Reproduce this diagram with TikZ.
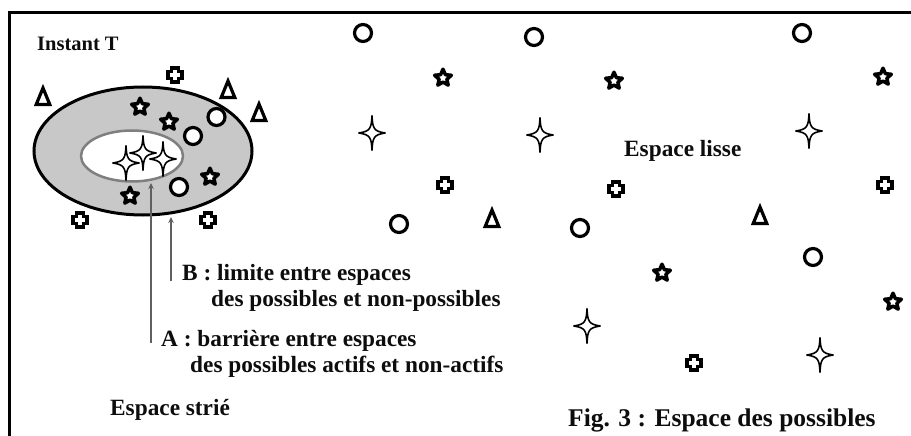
\documentclass[tikz,border=0pt]{standalone}
\usepackage{fontspec}
\setmainfont{Liberation Serif}
\usetikzlibrary{arrows.meta}
\definecolor{fillgray}{HTML}{C8C8C8}
\definecolor{rimgray}{HTML}{7F7F7F}
\definecolor{leadgray}{HTML}{606060}
\tikzset{
  x=1pt,y=-1pt,
  lab/.style={inner sep=0pt,anchor=base west,font=\bfseries\fontsize{23.3}{26}\selectfont,text=black!95},
  leader/.style={leadgray,line width=1.2pt,-{Stealth[length=6pt,width=5.5pt]}},
  pics/circsym/.style={code={\draw[line width=3.2pt,black,fill=white] (0,0) circle[radius=8.5];}},
  pics/trisym/.style={code={\draw[line width=3.2pt,black,fill=white,miter limit=10] (0,-8)--(6.8,8.5)--(-6.8,8.5)--cycle;}},
  pics/plussym/.style={code={\draw[line width=3.3pt,black,fill=white]
     (-3.2,-7)--(3.2,-7)--(3.2,-3.2)--(7,-3.2)--(7,3.2)--(3.2,3.2)--(3.2,7)--(-3.2,7)--(-3.2,3.2)--(-7,3.2)--(-7,-3.2)--(-3.2,-3.2)--cycle;}},
  pics/starsym/.style={code={\draw[line width=3.5pt,black,fill=white,line join=round]
     (90:-8.8)--(126:-4.1)--(162:-8.8)--(198:-4.1)--(234:-8.8)--(270:-4.1)--(306:-8.8)--(342:-4.1)--(18:-8.8)--(54:-4.1)--cycle;}},
  pics/sparksym/.style={code={\draw[line width=1.6pt,black,fill=white,line join=bevel]
     (0,-17.5) .. controls (0.6,-5) and (1.5,-1.5) .. (13.5,0) .. controls (1.5,1.5) and (0.6,5) .. (0,17.5)
     .. controls (-0.6,5) and (-1.5,1.5) .. (-13.5,0) .. controls (-1.5,-1.5) and (-0.6,-5) .. (0,-17.5) -- cycle;}},
}
\begin{document}
\begin{tikzpicture}
\useasboundingbox[fill=white] (0,0) rectangle (911,436);
% frame
\draw[line width=3.4pt,black] (9.4,436) -- (9.4,12.7) -- (911,12.7);
% regions
\draw[line width=3pt,black,fill=fillgray] (143,151) ellipse[x radius=109,y radius=64];
\draw[line width=2.5pt,rimgray,fill=white] (132,156) ellipse[x radius=51,y radius=25.5];
% connectors
\coordinate (aTail) at (151,343); \coordinate (aHead) at (151,183);
\coordinate (bTail) at (171,281); \coordinate (bHead) at (171,217);
\draw[leader] (aTail) -- (aHead);
\draw[leader] (bTail) -- (bHead);
% symbols
\foreach \p in {(363,33),(534,37),(802,33),(399,224),(580,228),(813,257),(193,136),(216.5,117),(179,187)}
  \pic at \p {circsym};
\foreach \p in {(43,96),(228,89),(259,112),(492,218),(760,215)}
  \pic at \p {trisym};
\foreach \p in {(175,75),(80,220),(208,220),(445,185),(616,189),(885,185),(694,363)}
  \pic at \p {plussym};
\foreach \p in {(140,107),(169,122),(210,177),(130,196),(443,78),(614,81),(883,77),(662,273),(893,302)}
  \pic at \p {starsym};
\foreach \p in {(372,133),(540,135),(809,131),(587,326),(820,355),(126,163),(143,153),(163,159)}
  \pic at \p {sparksym};
% text
\node[lab,font=\bfseries\fontsize{20.5}{24}\selectfont] (instant) at (37,51) {Instant T};
\node[lab] (lisse) at (624,156) {Espace lisse};
\node[lab] (strie) at (110,415) {Espace strié};
\node[lab] (b1) at (182,280) {B : limite entre espaces};
\node[lab] (b2) at (211,306) {des possibles et non-possibles};
\node[lab] (a1) at (161,346) {A : barrière entre espaces};
\node[lab] (a2) at (190,372) {des possibles actifs et non-actifs};
\node[lab,font=\bfseries\fontsize{25.5}{30}\selectfont] (fig) at (568,426) {Fig. 3 : Espace des possibles};
\end{tikzpicture}
\end{document}
